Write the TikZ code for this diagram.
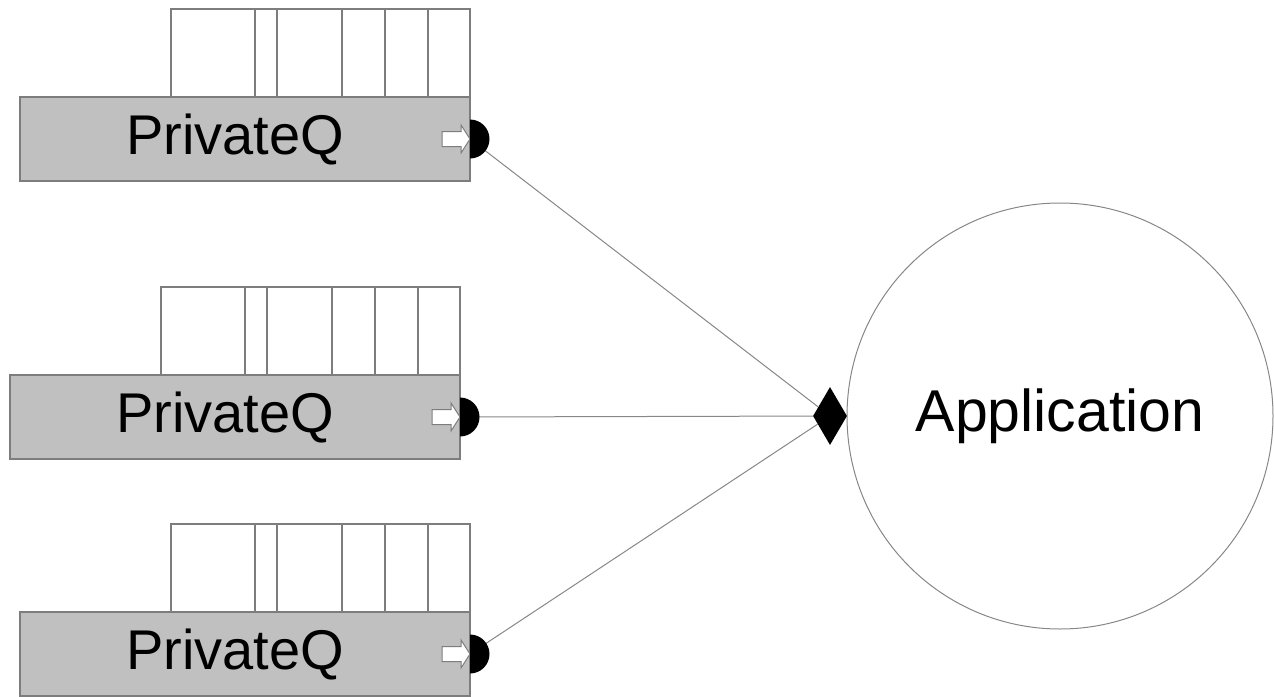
\documentclass[tikz,border=0pt]{standalone}
\usepackage{fontspec}
\setmainfont{Liberation Sans}
\usetikzlibrary{shapes.geometric}
\definecolor{boxgray}{RGB}{192,192,192}
\definecolor{edgegray}{RGB}{125,125,125}
\definecolor{linegray}{RGB}{135,135,135}
\begin{document}
\begin{tikzpicture}[x=1pt,y=-1pt,
  qbox/.style={draw=edgegray, fill=boxgray, line width=1.3pt, minimum width=450pt, minimum height=84pt, inner sep=0pt},
  qtext/.style={inner sep=0pt, font=\fontsize{56}{60}\selectfont},
  cell/.style={draw=edgegray, line width=1.1pt},
  hollow/.style={draw=edgegray, fill=white, line width=1pt, line join=miter},
  link/.style={draw=linegray, line width=1pt},
  port/.style={fill=black},
  joinmark/.style={diamond, fill=black, minimum width=34pt, minimum height=58pt, inner sep=0pt},
  app/.style={circle, draw=linegray, line width=1pt, minimum size=426pt, inner sep=0pt, font=\fontsize{59}{64}\selectfont}]
\useasboundingbox (0,0) rectangle (1274,696);
% queues
\foreach \n/\dx/\dy in {1/0/0, 2/-10/278, 3/0/515} {
  \begin{scope}[shift={(\dx,\dy)}]
    \draw[cell, fill=white] (171,9) rectangle (470,97);
    \foreach \c in {255,277,342,385,428} \draw[cell] (\c,9) -- (\c,97);
    \node[qbox] (q\n) at (245,139) {};
    \node[qtext] (t\n) at (235,139) {PrivateQ};
    \draw[hollow] (442,131.5) -- (461,131.5) -- (461,125) -- (470,139) -- (461,153) -- (461,146.5) -- (442,146.5) -- cycle;
    \coordinate (p\n) at (470,139);
  \end{scope}
}
% application
\node[app] (a) at (1060,416) {Application};
\node[joinmark] (d) at (830,416) {};
% connectors
\foreach \n in {1,2,3} {
  \draw[link] (p\n) -- (d);
  \fill[port] (p\n) ++(0pt,19.5pt) arc[start angle=90, end angle=-90, radius=19.5pt] -- cycle;
}
\end{tikzpicture}
\end{document}
